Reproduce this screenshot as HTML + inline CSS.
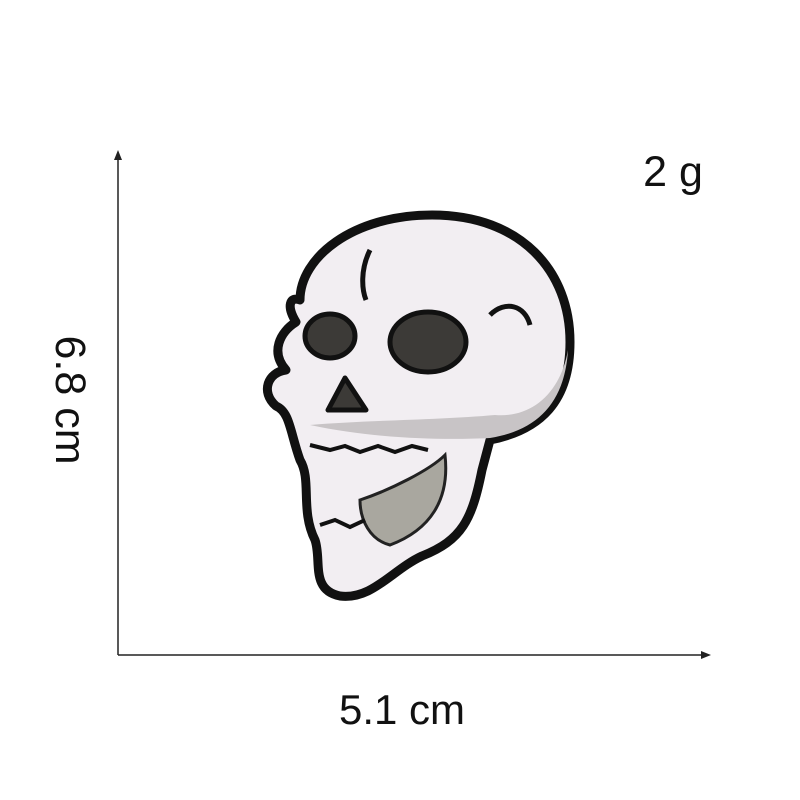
<!DOCTYPE html>
<html>
<head>
<meta charset="utf-8">
<style>
  html, body { margin: 0; padding: 0; background: #fff; }
  #wrap { width: 800px; height: 800px; position: relative; overflow: hidden; background: #fff; }
  svg { position: absolute; left: 0; top: 0; }
  text { font-family: "Liberation Sans", sans-serif; fill: #111; }
</style>
</head>
<body>
<div id="wrap">
<svg width="800" height="800" viewBox="0 0 800 800">
  <line x1="118" y1="158" x2="118" y2="655" stroke="#222" stroke-width="1.5"/>
  <polygon points="118,150 114,160 122,160" fill="#222"/>
  <line x1="118" y1="655" x2="702" y2="655" stroke="#222" stroke-width="1.5"/>
  <polygon points="711,655 701,651 701,659" fill="#222"/>

  <text x="673" y="186" font-size="43" text-anchor="middle">2 g</text>
  <text x="402" y="724" font-size="42" text-anchor="middle">5.1 cm</text>
  <text x="0" y="0" font-size="43" text-anchor="middle" transform="translate(56,400) rotate(90)">6.8 cm</text>

  <g>
    <path d="M 300,300 C 300,258 352,215 432,215 C 522,215 570,272 570,342 C 570,402 540,430 490,440 L 482,470 C 472,520 462,540 422,556 C 392,570 372,600 340,596 C 310,590 322,560 315,540 C 300,510 312,480 300,460 C 290,432 290,412 276,406 C 260,392 268,372 286,370 C 270,352 280,332 296,322 C 286,306 290,296 300,300 Z"
      fill="#f2eef2" stroke="#111" stroke-width="9" stroke-linejoin="round"/>
    <path d="M 310,425 C 380,440 450,440 490,438 C 540,430 565,400 568,350 C 560,395 530,418 495,415 C 440,420 370,420 310,425 Z" fill="#c8c4c6"/>
    <path d="M 360,500 C 390,490 430,470 445,455 C 450,500 430,530 390,545 C 370,540 360,520 360,500 Z" fill="#a9a79f" stroke="#222" stroke-width="3"/>
    <ellipse cx="330" cy="336" rx="25" ry="22" fill="#3c3a37" stroke="#111" stroke-width="5"/>
    <ellipse cx="428" cy="342" rx="38" ry="30" fill="#3c3a37" stroke="#111" stroke-width="5"/>
    <path d="M 345,378 L 328,410 L 366,410 Z" fill="#3c3a37" stroke="#111" stroke-width="5" stroke-linejoin="round"/>
    <path d="M 310,445 L 330,450 L 345,446 L 360,452 L 378,446 L 395,452 L 412,446 L 428,450" fill="none" stroke="#111" stroke-width="4"/>
    <path d="M 320,525 L 335,520 L 350,527 L 365,520" fill="none" stroke="#111" stroke-width="4"/>
    <path d="M 370,250 C 360,270 362,290 366,300" fill="none" stroke="#111" stroke-width="5"/>
    <path d="M 490,315 C 505,300 525,305 530,325" fill="none" stroke="#111" stroke-width="5"/>
  </g>
</svg>
</div>
</body>
</html>
